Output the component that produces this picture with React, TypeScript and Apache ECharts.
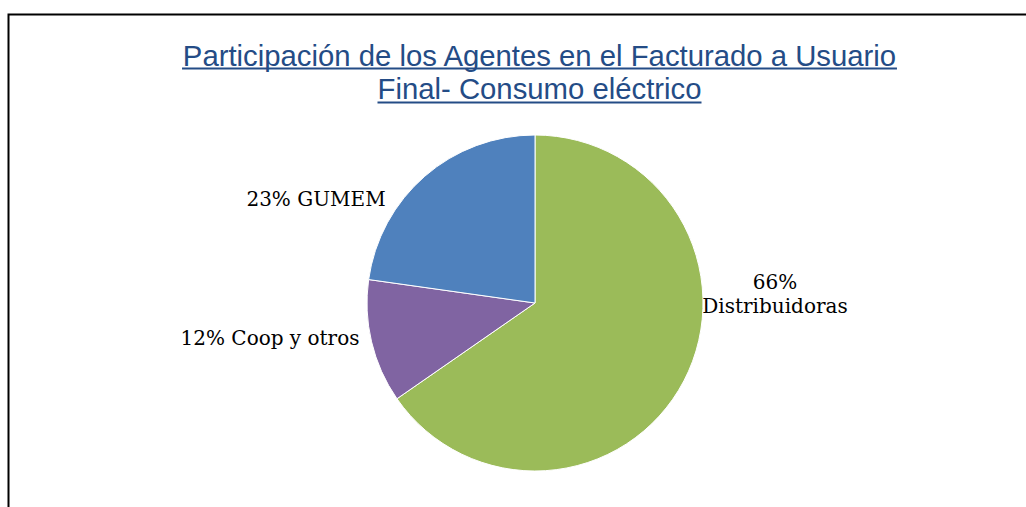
import React, { useEffect, useRef } from "react";
import * as echarts from "echarts";

const titleLines = ["Participación de los Agentes en el Facturado a Usuario", "Final- Consumo eléctrico"];
const categories = ["Distribuidoras", "Coop y otros", "GUMEM"];
const values = [66, 12, 23];
const labelTexts = ["66%\nDistribuidoras", "12% Coop y otros", "23% GUMEM"];
const colors = ["#9BBB59", "#8064A2", "#4F81BD"];

// label anchor positions (style/layout only)
const labelPos = [
  { x: 775, y: 294, align: "center" },
  { x: 270, y: 338, align: "center" },
  { x: 316, y: 199, align: "center" },
];

const TITLE_FONT = "29.3px 'Liberation Sans', Arial, sans-serif";
const TITLE_COLOR = "#244C86";

function measure(text: string, font: string): number {
  const c = document.createElement("canvas");
  const ctx = c.getContext("2d");
  if (!ctx) return text.length * 14;
  ctx.font = font;
  return ctx.measureText(text).width;
}

export default function App() {
  const ref = useRef<HTMLDivElement>(null);
  useEffect(() => {
    if (!ref.current) return;
    const chart = echarts.init(ref.current, undefined, { renderer: "svg" });
    const cx = 539.5;
    const baselines = [55, 88.5];
    const underlineY = [68.5, 102.5];
    const graphics: any[] = [
      {
        type: "rect",
        shape: { x: 8.5, y: 14.5, width: 1200, height: 800 },
        style: { fill: "none", stroke: "#000", lineWidth: 2 },
        silent: true,
      },
    ];
    titleLines.forEach((t, i) => {
      const w = measure(t, TITLE_FONT);
      graphics.push({
        type: "text",
        x: cx,
        y: baselines[i],
        style: {
          text: t,
          font: TITLE_FONT,
          fill: TITLE_COLOR,
          align: "center",
          verticalAlign: "middle",
        },
      });
      graphics.push({
        type: "line",
        shape: { x1: cx - w / 2, y1: underlineY[i], x2: cx + w / 2, y2: underlineY[i] },
        style: { stroke: TITLE_COLOR, lineWidth: 2 },
        silent: true,
      });
    });

    chart.setOption({
      animation: false,
      graphic: graphics,
      series: [
        {
          type: "pie",
          center: [535, 303],
          radius: [0, 168],
          startAngle: 90,
          clockwise: true,
          data: categories.map((name, i) => ({
            name,
            value: values[i],
            itemStyle: { color: colors[i] },
          })),
          itemStyle: { borderColor: "#fff", borderWidth: 1 },
          label: {
            show: true,
            position: "outside",
            formatter: (p: any) => labelTexts[p.dataIndex],
            fontFamily: "'DejaVu Serif', serif",
            fontSize: 20,
            lineHeight: 24,
            color: "#000",
            align: "center",
          },
          labelLine: { show: false },
          labelLayout: (params: any) => {
            const lp = labelPos[params.dataIndex];
            return { x: lp.x, y: lp.y, align: lp.align, verticalAlign: "middle" };
          },
          emphasis: { disabled: true },
        },
      ],
    });
    return () => chart.dispose();
  }, []);
  return (
    <div
      ref={ref}
      style={{ position: "fixed", left: 0, top: 0, width: 1026, height: 507, background: "#fff" }}
    />
  );
}
